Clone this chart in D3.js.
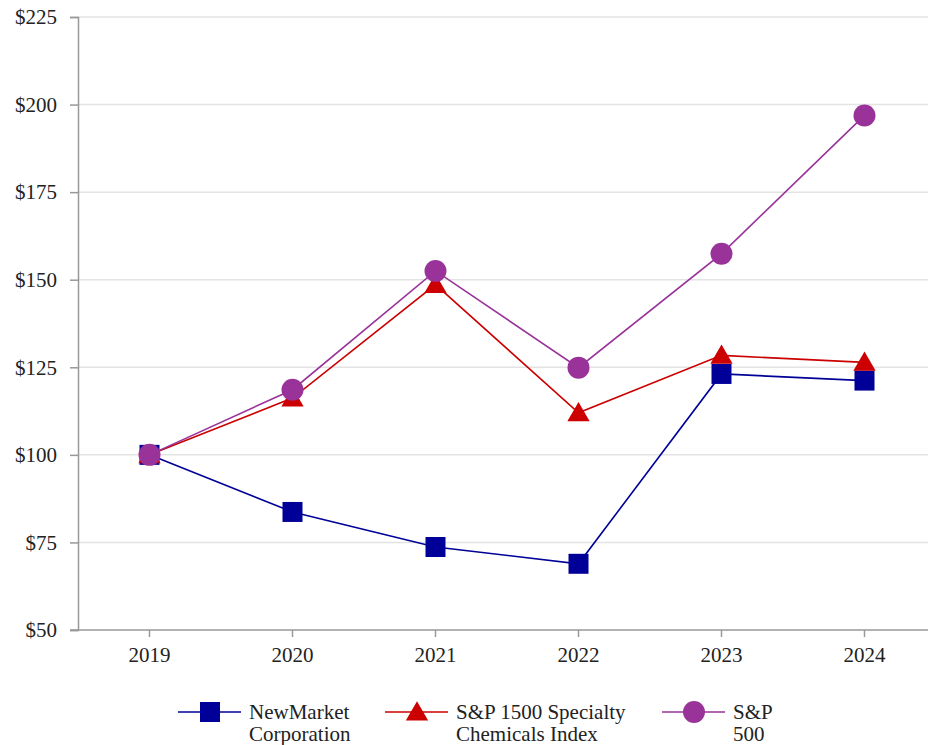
<!DOCTYPE html>
<html>
<head>
<meta charset="utf-8">
<script src="https://cdn.jsdelivr.net/npm/d3@7"></script>
<style>
  body { margin: 0; background: #fff; }
  svg { display: block; }
  svg text { font-family: "Liberation Serif", "Times New Roman", Tinos, "DejaVu Serif", serif; }
</style>
</head>
<body>
<svg id="chart"></svg>
<script>
const years = ["2019", "2020", "2021", "2022", "2023", "2024"];
const newMarket = [100, 83.7, 73.7, 68.9, 123.1, 121.2];
const specialtyChem = [100, 116.2, 148.6, 112.0, 128.4, 126.4];
const sp500 = [100, 118.6, 152.5, 124.9, 157.4, 196.9];
const yTicks = [50, 75, 100, 125, 150, 175, 200, 225];

const series = [
  { name: ["NewMarket", "Corporation"], values: newMarket, color: "#000099", symbol: d3.symbolSquare, size: 400 },
  { name: ["S&P 1500 Specialty", "Chemicals Index"], values: specialtyChem, color: "#cc0000", symbol: d3.symbolTriangle, size: 215 },
  { name: ["S&P", "500"], values: sp500, color: "#993399", symbol: d3.symbolCircle, size: 380 }
];

const width = 928;
const height = 745;
const margin = { top: 17, right: -8, bottom: 115, left: 78 };

const svg = d3.select("#chart")
  .attr("width", width)
  .attr("height", height);

const x = d3.scaleBand()
  .domain(years)
  .range([margin.left, width - margin.right]);

const y = d3.scaleLinear()
  .domain([50, 225])
  .range([height - margin.bottom, margin.top]);

// gridlines
svg.append("g")
  .selectAll("line")
  .data(yTicks.filter(d => d > 50))
  .join("line")
  .attr("x1", margin.left)
  .attr("x2", width)
  .attr("y1", d => y(d))
  .attr("y2", d => y(d))
  .attr("stroke", "#e3e3e3")
  .attr("stroke-width", 1.5);

// y axis
const yAxis = svg.append("g")
  .attr("transform", `translate(${margin.left},0)`)
  .call(d3.axisLeft(y).tickValues(yTicks).tickFormat(d => "$" + d).tickSize(8).tickPadding(13));
yAxis.attr("font-family", null);
yAxis.selectAll("text").attr("font-size", 21).attr("fill", "#222");
yAxis.selectAll("line, path").attr("stroke", "#999").attr("stroke-width", 1.5);

// x axis
const xAxis = svg.append("g")
  .attr("transform", `translate(0,${y(50)})`)
  .call(d3.axisBottom(x).tickSize(7).tickSizeOuter(0).tickPadding(10));
xAxis.attr("font-family", null);
xAxis.selectAll("text").attr("font-size", 21).attr("fill", "#222");
xAxis.selectAll("line, path").attr("stroke", "#999").attr("stroke-width", 1.5);
xAxis.select("path").attr("d", `M${margin.left - 8},0H${width}`);

const cx = d => x(d) + x.bandwidth() / 2;

const line = d3.line()
  .x((d, i) => cx(years[i]))
  .y(d => y(d));

const groups = svg.append("g")
  .selectAll("g")
  .data(series)
  .join("g");

groups.append("path")
  .attr("d", d => line(d.values))
  .attr("fill", "none")
  .attr("stroke", d => d.color)
  .attr("stroke-width", 1.6);

groups.selectAll(".mark")
  .data(d => d.values.map((v, i) => ({ v, i, s: d })))
  .join("path")
  .attr("class", "mark")
  .attr("transform", d => `translate(${cx(years[d.i])},${y(d.v) + (d.s.symbol === d3.symbolTriangle ? 2 : 0)})`)
  .attr("d", d => d3.symbol(d.s.symbol, d.s.size)())
  .attr("fill", d => d.s.color);

// legend
const legendX = [178, 385, 662];
const legend = svg.append("g")
  .selectAll("g")
  .data(series)
  .join("g")
  .attr("transform", (d, i) => `translate(${legendX[i]},712)`);

legend.append("line")
  .attr("x1", 0).attr("x2", 63)
  .attr("stroke", d => d.color)
  .attr("stroke-width", 1.6);

legend.append("path")
  .attr("transform", d => `translate(32,${d.symbol === d3.symbolTriangle ? 2 : 0})`)
  .attr("d", d => d3.symbol(d.symbol, d.size)())
  .attr("fill", d => d.color);

legend.append("text")
  .attr("x", 71)
  .attr("y", 7)
  .attr("font-size", 21)
  .attr("fill", "#222")
  .selectAll("tspan")
  .data(d => d.name)
  .join("tspan")
  .attr("x", 71)
  .attr("dy", (d, i) => i === 0 ? 0 : 22)
  .text(d => d);
</script>
</body>
</html>
